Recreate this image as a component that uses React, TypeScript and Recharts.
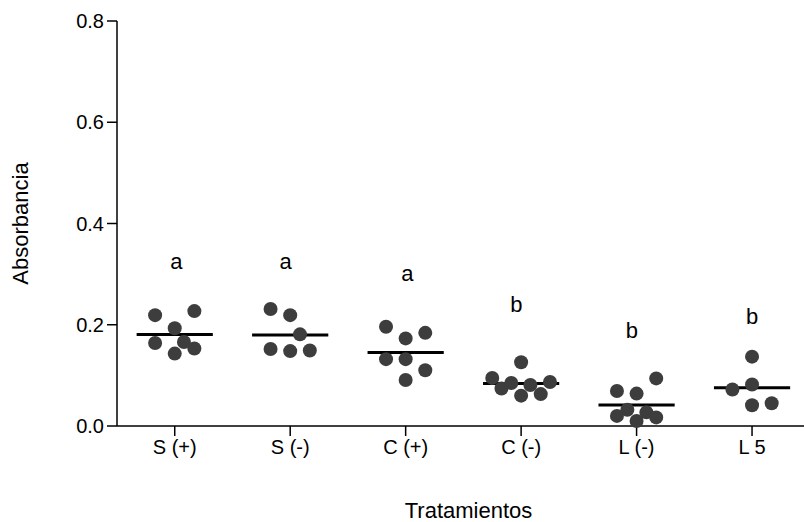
import {
  ScatterChart,
  Scatter,
  XAxis,
  YAxis,
  ReferenceLine,
} from "recharts";

const categories = ["S (+)", "S (-)", "C (+)", "C (-)", "L (-)", "L 5"];
const letters = ["a", "a", "a", "b", "b", "b"];
const letterHeights = [0.31, 0.31, 0.287, 0.225, 0.173, 0.201];
const letterOffsets = [0.015, -0.04, 0.015, -0.04, -0.04, 0];
const yTicks = [0, 0.2, 0.4, 0.6, 0.8];

// absorbance per replicate, and horizontal spread (category units) as drawn
const sPlus = [0.219, 0.227, 0.193, 0.164, 0.166, 0.153, 0.143];
const sPlusOffset = [-0.17, 0.17, 0, -0.17, 0.08, 0.17, 0];
const sMinus = [0.231, 0.219, 0.181, 0.152, 0.148, 0.149];
const sMinusOffset = [-0.17, 0, 0.085, -0.17, 0, 0.17];
const cPlus = [0.196, 0.173, 0.184, 0.132, 0.132, 0.11, 0.091];
const cPlusOffset = [-0.17, 0, 0.17, -0.17, 0, 0.17, 0];
const cMinus = [0.126, 0.095, 0.074, 0.085, 0.081, 0.087, 0.06, 0.063];
const cMinusOffset = [0, -0.25, -0.17, -0.085, 0.08, 0.25, 0, 0.17];
const lMinus = [0.094, 0.069, 0.064, 0.032, 0.02, 0.027, 0.017, 0.01];
const lMinusOffset = [0.17, -0.17, 0, -0.08, -0.17, 0.085, 0.17, 0];
const l5 = [0.137, 0.072, 0.082, 0.041, 0.045];
const l5Offset = [0, -0.17, 0, 0, 0.17];

const groups = [sPlus, sMinus, cPlus, cMinus, lMinus, l5];
const offsets = [sPlusOffset, sMinusOffset, cPlusOffset, cMinusOffset, lMinusOffset, l5Offset];

const points = groups.flatMap((vals, i) =>
  vals.map((v, j) => ({ x: i + offsets[i][j], y: v }))
);
const means = groups.map((vals) => vals.reduce((a, b) => a + b, 0) / vals.length);
const letterPoints = letters.map((l, i) => ({
  x: i + letterOffsets[i],
  y: letterHeights[i],
  letter: l,
}));

const font = "'Liberation Sans', Arial, sans-serif";

const LetterShape = (props: any) => (
  <text
    x={props.cx}
    y={props.cy}
    textAnchor="middle"
    fontSize={22}
    fontFamily={font}
    fill="#000"
  >
    {props.payload.letter}
  </text>
);

export default function App() {
  return (
    <div style={{ position: "absolute", left: 0, top: 0, background: "#fff" }}>
      <ScatterChart
        width={804}
        height={522}
        margin={{ top: 21, right: 0, left: 0, bottom: 0 }}
        style={{ fontFamily: font }}
      >
        <XAxis
          type="number"
          dataKey="x"
          domain={[-0.5, 5.45]}
          ticks={[0, 1, 2, 3, 4, 5]}
          tickFormatter={(v: number) => categories[v]}
          allowDataOverflow
          height={96}
          tickSize={10}
          tickMargin={4}
          stroke="#000"
          strokeWidth={1.5}
          tick={{ fill: "#000", fontSize: 20 }}
          label={{
            value: "Tratamientos",
            position: "insideBottom",
            offset: 4,
            dx: 8,
            fontSize: 22,
            fill: "#000",
          }}
        />
        <YAxis
          type="number"
          dataKey="y"
          domain={[0, 0.8]}
          ticks={yTicks}
          tickFormatter={(v: number) => v.toFixed(1)}
          width={117}
          tickSize={10}
          tickMargin={3}
          stroke="#000"
          strokeWidth={1.5}
          tick={{ fill: "#000", fontSize: 20 }}
          label={{
            value: "Absorbancia",
            angle: -90,
            position: "insideLeft",
            offset: 20,
            fontSize: 22,
            fill: "#000",
            style: { textAnchor: "middle" },
          }}
        />
        <Scatter
          data={points}
          fill="#3d3d3d"
          shape={(p: any) => <circle cx={p.cx} cy={p.cy} r={7} fill="#3d3d3d" />}
          isAnimationActive={false}
        />
        {means.map((m, i) => (
          <ReferenceLine
            key={i}
            segment={[
              { x: i - 0.33, y: m },
              { x: i + 0.33, y: m },
            ]}
            stroke="#000"
            strokeWidth={3}
          />
        ))}
        <Scatter data={letterPoints} shape={LetterShape} isAnimationActive={false} />
      </ScatterChart>
    </div>
  );
}
